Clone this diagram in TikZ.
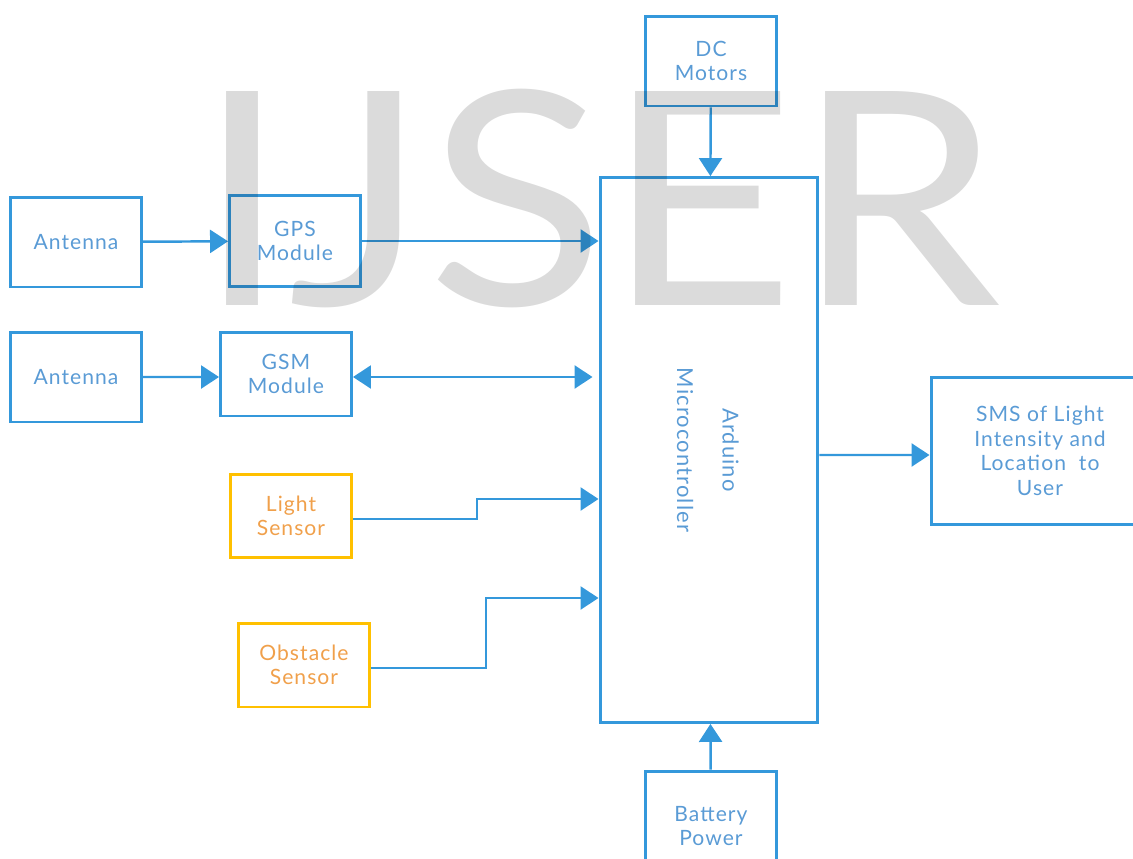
\documentclass[tikz,border=0pt]{standalone}
\usepackage{fontspec}
\setmainfont{Lato}[LetterSpace=5]
\newfontfamily\wmfont{Lato}
\usetikzlibrary{positioning, arrows.meta}

\definecolor{lineblue}{HTML}{3498DB}
\definecolor{textblue}{HTML}{5A9BD5}
\definecolor{boxgold}{HTML}{FFC000}
\definecolor{textorange}{HTML}{F0A04B}

\begin{document}
\begin{tikzpicture}[x=0.02cm, y=-0.02cm,
    >={Triangle[length=3.6mm, width=4.6mm]},
    block/.style={draw=lineblue, line width=1.7pt, text=textblue, align=center,
        font=\fontsize{12}{13.8}\selectfont, minimum width=2.62cm, minimum height=1.8cm,
        inner sep=0pt},
    sensor/.style={block, draw=boxgold, text=textorange},
    link/.style={draw=lineblue, line width=1.4pt}]
            \clip (0, 0) rectangle (1133, 859);

            \node[block] (ant1) at (76, 242) {Antenna};
            \node[block, minimum height=1.82cm] (gps) at (295, 241) {GPS\\Module};
            \node[block] (ant2) at (76, 377) {Antenna};
            \node[block, minimum height=1.68cm] (gsm) at (286, 374) {GSM\\Module};
            \node[sensor, minimum width=2.44cm, minimum height=1.66cm] (light) at (291, 516) {Light\\Sensor};
            \node[sensor, minimum height=1.68cm] (obst) at (304, 665) {Obstacle\\Sensor};
            \node[block, minimum width=4.36cm, minimum height=10.9cm] (ard) at (709, 450)
                {\rotatebox{-90}{\fontsize{12.5}{26}\selectfont
                 \begin{tabular}{@{}c@{}}Arduino\\Microcontroller\end{tabular}}};
            \node[block] (dc) at (711, 61) {DC\\Motors};
            \node[block, minimum height=2.2cm] (bat) at (711, 826) {Battery\\Power};
            \node[block, minimum width=4.36cm, minimum height=2.94cm,
                font=\fontsize{12}{14}\selectfont] (sms) at (1040, 451)
                {SMS of Light\\Intensity and\\Location~ to\\User};

            \coordinate (lbend) at (477, 499);
            \coordinate (obend) at (486, 598);

            \draw [link, ->] (ant1) -- (gps);
            \draw [link, ->] (gps.east) -- (gps.east -| ard.west);
            \draw [link, ->] (ant2.east |- gsm.east) ++(0, 3) -- ([yshift=-0.06cm] gsm.west);
            \draw [link, <->] ([yshift=-0.06cm] gsm.east) -- ([xshift=-0.12cm, yshift=-0.06cm] gsm.east -| ard.west);
            \draw [link, ->] (light.east) ++(0, 3) -| (lbend) -- (lbend -| ard.west);
            \draw [link, ->] (obst.east) ++(0, 3) -| (obend) -- (obend -| ard.west);
            \draw [link, ->] (dc) -- (ard);
            \draw [link, ->] (bat) -- (ard);
            \draw [link, ->] (ard.east |- sms.west) ++(0, 4) -- ([yshift=-0.08cm] sms.west);

            \node[text=black, text opacity=0.14, font=\wmfont\fontsize{170}{170}\selectfont,
                inner sep=0pt, anchor=base west, xscale=1.1] (wm) at (196, 305) {IJSER};
        \end{tikzpicture}
\end{document}
